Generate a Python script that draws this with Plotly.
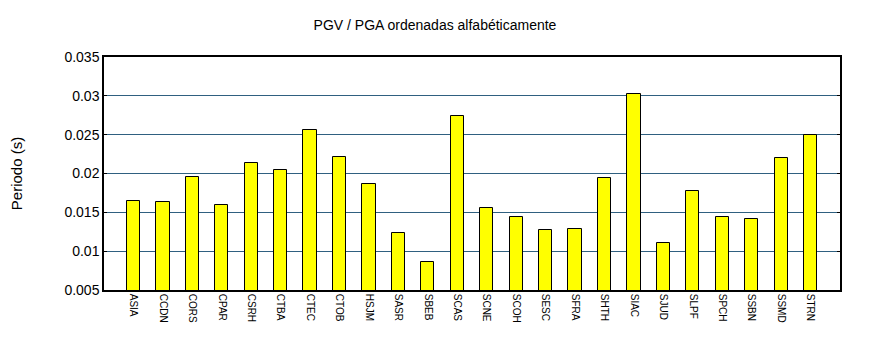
import plotly.graph_objects as go

# Station codes (alphabetical) and their PGV/PGA period values (s)
stations = ["ASIA", "CCDN", "CORS", "CPAR", "CSRH", "CTBA", "CTEC", "CTOB",
            "HSJM", "SASR", "SBEB", "SCAS", "SCNE", "SCOH", "SESC", "SFRA",
            "SHTH", "SIAC", "SJUD", "SLPF", "SPCH", "SSBN", "SSMD", "STRN"]
periods = [0.0164, 0.0163, 0.0195, 0.0159, 0.0214, 0.0205, 0.0256, 0.0221,
           0.0187, 0.0123, 0.0086, 0.0274, 0.0156, 0.0144, 0.0127, 0.0129,
           0.0194, 0.0303, 0.0110, 0.0178, 0.0144, 0.0141, 0.0220, 0.0249]

y_ticks = [0.005, 0.01, 0.015, 0.02, 0.025, 0.03, 0.035]
y_tick_text = ["0.005", "0.01", "0.015", "0.02", "0.025", "0.03", "0.035"]

font_family = "Liberation Sans, Arial, sans-serif"

fig = go.Figure(
    go.Bar(
        x=list(range(len(stations))),
        y=periods,
        width=0.45,
        marker=dict(color="#ffff00", line=dict(color="#000000", width=1)),
    )
)

fig.update_layout(
    width=870,
    height=350,
    margin=dict(l=104, r=30, t=57, b=60),
    paper_bgcolor="white",
    plot_bgcolor="white",
    showlegend=False,
    font=dict(family=font_family, color="#000000"),
    title=dict(
        text="PGV / PGA ordenadas alfabéticamente",
        x=0.5, xanchor="center",
        y=1 - 25 / 350, yanchor="middle",
        font=dict(size=14, family=font_family, color="#000000"),
    ),
    bargap=0,
)

fig.update_xaxes(
    range=[-1, 24],
    tickmode="array",
    tickvals=list(range(len(stations))),
    ticktext=stations,
    tickangle=90,
    tickfont=dict(size=10, family=font_family),
    ticks="",
    showgrid=False,
    showline=True, linecolor="#000000", linewidth=1.5,
    mirror=True,
    zeroline=False,
)

fig.update_yaxes(
    range=[0.005, 0.035],
    tickmode="array",
    tickvals=y_ticks,
    ticktext=y_tick_text,
    tickfont=dict(size=14, family=font_family),
    ticks="inside", ticklen=3, tickcolor="#000000",
    showgrid=True, gridcolor="#2f6080", gridwidth=1,
    showline=True, linecolor="#000000", linewidth=1.5,
    mirror="ticks",
    zeroline=False,
    title=dict(text="Periodo (s)", font=dict(size=15, family=font_family), standoff=38),
)

fig.write_html("out.html")
